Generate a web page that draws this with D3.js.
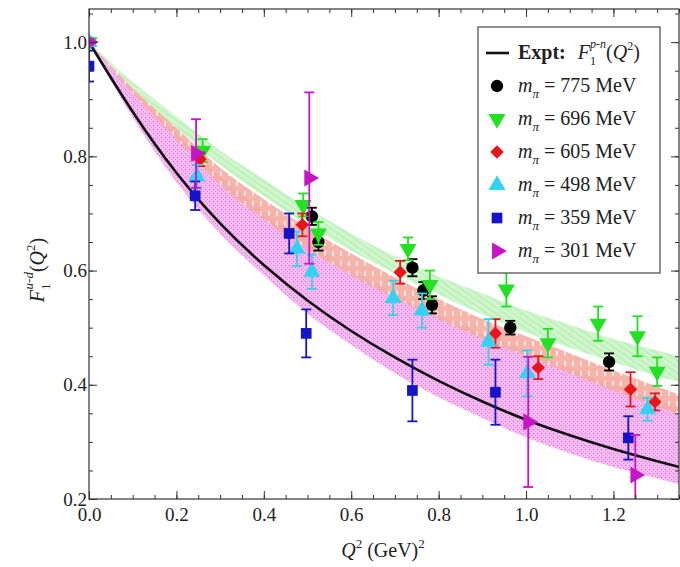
<!DOCTYPE html>
<html>
<head>
<meta charset="utf-8">
<script src="https://cdn.jsdelivr.net/npm/d3@7"></script>
<style>
  body { margin: 0; background: #fff; }
  text { font-family: "Liberation Serif", "DejaVu Serif", serif; fill: #222; }
</style>
</head>
<body>
<script>
var qCurve  = [0, 0.1, 0.2, 0.3, 0.4, 0.5, 0.6, 0.7, 0.8, 0.9, 1.0, 1.1, 1.2, 1.3, 1.35];
var expt    = [1.0, 0.875, 0.768, 0.68, 0.608, 0.546, 0.493, 0.447, 0.406, 0.37, 0.338, 0.311, 0.287, 0.266, 0.256];
var greenHi = [1.0, 0.93, 0.87, 0.81, 0.76, 0.71, 0.665, 0.625, 0.59, 0.56, 0.53, 0.505, 0.48, 0.46, 0.45];
var greenLo = [1.0, 0.92, 0.85, 0.785, 0.73, 0.68, 0.635, 0.595, 0.558, 0.523, 0.492, 0.465, 0.44, 0.415, 0.405];
var redHi   = [1.0, 0.92, 0.85, 0.78, 0.725, 0.675, 0.63, 0.588, 0.55, 0.515, 0.485, 0.455, 0.425, 0.397, 0.383];
var redLo   = [1.0, 0.91, 0.83, 0.75, 0.69, 0.637, 0.592, 0.552, 0.515, 0.48, 0.45, 0.42, 0.39, 0.362, 0.348];
var magHi   = [1.0, 0.915, 0.84, 0.765, 0.705, 0.65, 0.603, 0.56, 0.522, 0.49, 0.46, 0.43, 0.40, 0.372, 0.358];
var magLo   = [1.0, 0.868, 0.755, 0.665, 0.592, 0.525, 0.47, 0.42, 0.378, 0.342, 0.308, 0.28, 0.256, 0.236, 0.226];

// lattice points: Q^2, F1, error
var q775 = [0, 0.51, 0.525, 0.74, 0.765, 0.785, 0.964, 1.19];
var f775 = [1.0, 0.695, 0.65, 0.605, 0.565, 0.54, 0.50, 0.44];
var e775 = [0.005, 0.015, 0.015, 0.015, 0.015, 0.015, 0.012, 0.015];

var q696 = [0, 0.26, 0.49, 0.525, 0.73, 0.78, 0.955, 1.05, 1.165, 1.255, 1.30];
var f696 = [1.0, 0.81, 0.715, 0.665, 0.638, 0.575, 0.567, 0.473, 0.507, 0.485, 0.423];
var e696 = [0.005, 0.02, 0.02, 0.02, 0.02, 0.025, 0.03, 0.025, 0.03, 0.035, 0.025];

var q605 = [0, 0.254, 0.488, 0.712, 0.93, 1.028, 1.239, 1.295];
var f605 = [1.0, 0.795, 0.68, 0.597, 0.49, 0.43, 0.392, 0.37];
var e605 = [0.005, 0.012, 0.02, 0.02, 0.025, 0.02, 0.03, 0.015];

var q498 = [0, 0.247, 0.476, 0.51, 0.696, 0.762, 0.914, 1.003, 1.278];
var f498 = [1.0, 0.765, 0.638, 0.598, 0.552, 0.53, 0.475, 0.42, 0.357];
var e498 = [0.005, 0.02, 0.03, 0.03, 0.03, 0.03, 0.04, 0.04, 0.02];

var q359 = [0, 0.243, 0.458, 0.497, 0.74, 0.93, 1.234];
var f359 = [0.958, 0.731, 0.665, 0.49, 0.39, 0.387, 0.307];
var e359 = [0.027, 0.025, 0.035, 0.042, 0.054, 0.057, 0.038];

var q301 = [0, 0.245, 0.504, 1.005, 1.25];
var f301 = [1.0, 0.805, 0.762, 0.335, 0.242];
var e301 = [0.005, 0.06, 0.15, 0.114, 0.07];

var massLabels = ["775", "696", "605", "498", "359", "301"];
var xTicks = [0, 0.2, 0.4, 0.6, 0.8, 1.0, 1.2];
var yTicks = [0.2, 0.4, 0.6, 0.8, 1.0];

var margin = {top: 9, right: 1, bottom: 68, left: 89},
    w = 680 - margin.left - margin.right,
    h = 567 - margin.top - margin.bottom; // 490

var svg = d3.select('body').append('svg')
    .attr('width', 680)
    .attr('height', 567);

var defs = svg.append('defs');

// band textures
var pm = defs.append('pattern').attr('id', 'pMag').attr('patternUnits', 'userSpaceOnUse')
    .attr('width', 4).attr('height', 4);
pm.append('rect').attr('width', 4).attr('height', 4).attr('fill', '#f8b8f4');
pm.append('rect').attr('x', 0).attr('y', 0).attr('width', 1).attr('height', 1).attr('fill', '#c06cc0');
pm.append('rect').attr('x', 2).attr('y', 2).attr('width', 1).attr('height', 1).attr('fill', '#d590d5');

var pr = defs.append('pattern').attr('id', 'pRed').attr('patternUnits', 'userSpaceOnUse')
    .attr('width', 8).attr('height', 10);
pr.append('rect').attr('width', 8).attr('height', 10).attr('fill', '#f5aca2');
pr.append('line').attr('x1', 4).attr('x2', 4).attr('y1', 2).attr('y2', 7)
    .attr('stroke', '#fff').attr('stroke-width', 1.3);

var pg = defs.append('pattern').attr('id', 'pGreen').attr('patternUnits', 'userSpaceOnUse')
    .attr('width', 5).attr('height', 5).attr('patternTransform', 'rotate(35)');
pg.append('rect').attr('width', 5).attr('height', 5).attr('fill', '#cbf6c8');
pg.append('line').attr('x1', 0).attr('x2', 5).attr('y1', 1).attr('y2', 1)
    .attr('stroke', '#aaeba6').attr('stroke-width', 1.2);

var g = svg.append('g')
    .attr('transform', 'translate(' + margin.left + ',' + margin.top + ')');

var xScale = d3.scaleLinear().domain([0, 1.35]).range([0, w]);
var yScale = d3.scaleLinear().domain([0.2, 1.058]).range([h, 0]);

var clip = defs.append('clipPath').attr('id', 'plotClip');
clip.append('rect').attr('width', w).attr('height', h);

var plot = g.append('g').attr('clip-path', 'url(#plotClip)');

// bands
function bandArea(hi, lo) {
  return d3.area()
    .x(function (d, i) { return xScale(qCurve[i]); })
    .y0(function (d, i) { return yScale(lo[i]); })
    .y1(function (d, i) { return yScale(hi[i]); })
    .curve(d3.curveMonotoneX)(qCurve);
}
plot.append('path').attr('d', bandArea(magHi, magLo)).attr('fill', 'url(#pMag)');
plot.append('path').attr('d', bandArea(redHi, redLo)).attr('fill', 'url(#pRed)').attr('opacity', 0.9);
plot.append('path').attr('d', bandArea(greenHi, greenLo)).attr('fill', 'url(#pGreen)').attr('opacity', 0.9);

// axes, ticks pointing inward on all four sides
var xMinor = d3.range(0, 1.351, 0.05);
var yMinor = d3.range(0.2, 1.06, 0.05);

function addAxis(axisFn, scale, major, minor, transform, labels) {
  var a = g.append('g').attr('class', 'axis').attr('transform', transform);
  a.call(axisFn(scale).tickValues(minor).tickSize(-4).tickFormat(''));
  var b = g.append('g').attr('class', 'axis').attr('transform', transform);
  b.call(axisFn(scale).tickValues(major).tickSize(-8)
      .tickPadding(axisFn === d3.axisBottom ? 9 : 2)
      .tickFormat(labels ? d3.format('.1f') : ''));
  [a, b].forEach(function (s) {
    s.select('.domain').remove();
    s.selectAll('line').attr('stroke', '#333').attr('stroke-width', 1);
    s.selectAll('text').attr('font-size', 19).attr('fill', '#333')
      .style('font-family', '"Liberation Serif", serif');
  });
}
addAxis(d3.axisBottom, xScale, xTicks, xMinor, 'translate(0,' + h + ')', true);
addAxis(d3.axisTop, xScale, xTicks, xMinor, 'translate(0,0)', false);
addAxis(d3.axisLeft, yScale, yTicks, yMinor, 'translate(0,0)', true);
addAxis(d3.axisRight, yScale, yTicks, yMinor, 'translate(' + w + ',0)', false);

g.append('rect').attr('width', w).attr('height', h)
    .attr('fill', 'none').attr('stroke', '#333').attr('stroke-width', 1.2);

// experimental curve
plot.append('path')
  .attr('d', d3.line()
    .x(function (d, i) { return xScale(qCurve[i]); })
    .y(function (d, i) { return yScale(expt[i]); })
    .curve(d3.curveBasis)(qCurve))
  .attr('fill', 'none').attr('stroke', '#111').attr('stroke-width', 2.6);

// symbols
function symPath(kind, s) {
  if (kind === 'circle') return d3.symbol().type(d3.symbolCircle).size(s * 1.0)();
  if (kind === 'square') return d3.symbol().type(d3.symbolSquare).size(s * 0.95)();
  if (kind === 'diamond') return d3.symbol().type(d3.symbolSquare).size(s * 0.75)();
  return d3.symbol().type(d3.symbolTriangle).size(s * 1.05)();
}
var rot = {circle: 0, square: 0, diamond: 45, up: 0, down: 180, right: 90};

var series = [
  {q: q775, f: f775, e: e775, color: '#000000', kind: 'circle'},
  {q: q696, f: f696, e: e696, color: '#22e022', kind: 'down'},
  {q: q605, f: f605, e: e605, color: '#e8141c', kind: 'diamond'},
  {q: q498, f: f498, e: e498, color: '#33d2f0', kind: 'up'},
  {q: q359, f: f359, e: e359, color: '#1414c8', kind: 'square'},
  {q: q301, f: f301, e: e301, color: '#c814c8', kind: 'right'}
];

series.forEach(function (s) {
  var pts = s.q.map(function (q, i) { return {q: q, f: s.f[i], e: s.e[i]}; });
  var sg = plot.append('g');
  var eb = sg.selectAll('g.err').data(pts).enter().append('g')
      .attr('stroke', s.color).attr('stroke-width', 1.8);
  eb.append('line')
    .attr('x1', function (d) { return xScale(d.q); })
    .attr('x2', function (d) { return xScale(d.q); })
    .attr('y1', function (d) { return yScale(d.f - d.e); })
    .attr('y2', function (d) { return yScale(d.f + d.e); });
  [-1, 1].forEach(function (sgn) {
    eb.append('line')
      .attr('x1', function (d) { return xScale(d.q) - 5; })
      .attr('x2', function (d) { return xScale(d.q) + 5; })
      .attr('y1', function (d) { return yScale(d.f + sgn * d.e); })
      .attr('y2', function (d) { return yScale(d.f + sgn * d.e); });
  });
  sg.selectAll('path.m').data(pts).enter().append('path')
    .attr('d', symPath(s.kind, 120))
    .attr('transform', function (d) {
      return 'translate(' + xScale(d.q) + ',' + yScale(d.f) + ') rotate(' + rot[s.kind] + ')';
    })
    .attr('fill', s.color);
});

// legend
var lg = svg.append('g').attr('transform', 'translate(478,27)');
lg.append('rect').attr('width', 182).attr('height', 246)
    .attr('fill', '#fff').attr('stroke', '#555').attr('stroke-width', 1.3);

var row0 = 26, rowH = 33;
lg.append('line').attr('x1', 8).attr('x2', 31).attr('y1', row0).attr('y2', row0)
    .attr('stroke', '#111').attr('stroke-width', 2.6);
var t0 = lg.append('text').attr('x', 40).attr('y', row0 + 6).attr('font-size', 20);
t0.append('tspan').attr('font-weight', 'bold').text('Expt:');
t0.append('tspan').attr('dx', 12).attr('font-style', 'italic').text('F');
t0.append('tspan').attr('dy', 6).attr('font-size', 12).text('1');
t0.append('tspan').attr('dy', -17).attr('dx', -6).attr('font-size', 12).attr('font-style', 'italic').text('p-n');
t0.append('tspan').attr('dy', 11).text('(');
t0.append('tspan').attr('font-style', 'italic').text('Q');
t0.append('tspan').attr('dy', -9).attr('font-size', 12).text('2');
t0.append('tspan').attr('dy', 9).text(')');

series.forEach(function (s, i) {
  var y = row0 + rowH * (i + 1);
  lg.append('path').attr('d', symPath(s.kind, 120))
    .attr('transform', 'translate(19,' + y + ') rotate(' + rot[s.kind] + ')')
    .attr('fill', s.color);
  var t = lg.append('text').attr('x', 40).attr('y', y + 6).attr('font-size', 20);
  t.append('tspan').attr('font-style', 'italic').text('m');
  t.append('tspan').attr('dy', 6).attr('font-size', 13).attr('font-style', 'italic').text('π');
  t.append('tspan').attr('dy', -6).text(' = ' + massLabels[i] + ' MeV');
});

// axis titles
var xt = svg.append('text').attr('x', 383).attr('y', 557).attr('text-anchor', 'middle').attr('font-size', 20);
xt.append('tspan').attr('font-style', 'italic').text('Q');
xt.append('tspan').attr('dy', -9).attr('font-size', 13).text('2');
xt.append('tspan').attr('dy', 9).text('  (GeV)');
xt.append('tspan').attr('dy', -9).attr('font-size', 13).text('2');

var yt = svg.append('text').attr('transform', 'translate(44,270) rotate(-90)')
    .attr('text-anchor', 'middle').attr('font-size', 20);
yt.append('tspan').attr('font-style', 'italic').text('F');
yt.append('tspan').attr('dy', 6).attr('font-size', 13).text('1');
yt.append('tspan').attr('dy', -17).attr('dx', -6).attr('font-size', 13).attr('font-style', 'italic').text('u-d');
yt.append('tspan').attr('dy', 11).text('(');
yt.append('tspan').attr('font-style', 'italic').text('Q');
yt.append('tspan').attr('dy', -9).attr('font-size', 13).text('2');
yt.append('tspan').attr('dy', 9).text(')');
</script>
</body>
</html>
